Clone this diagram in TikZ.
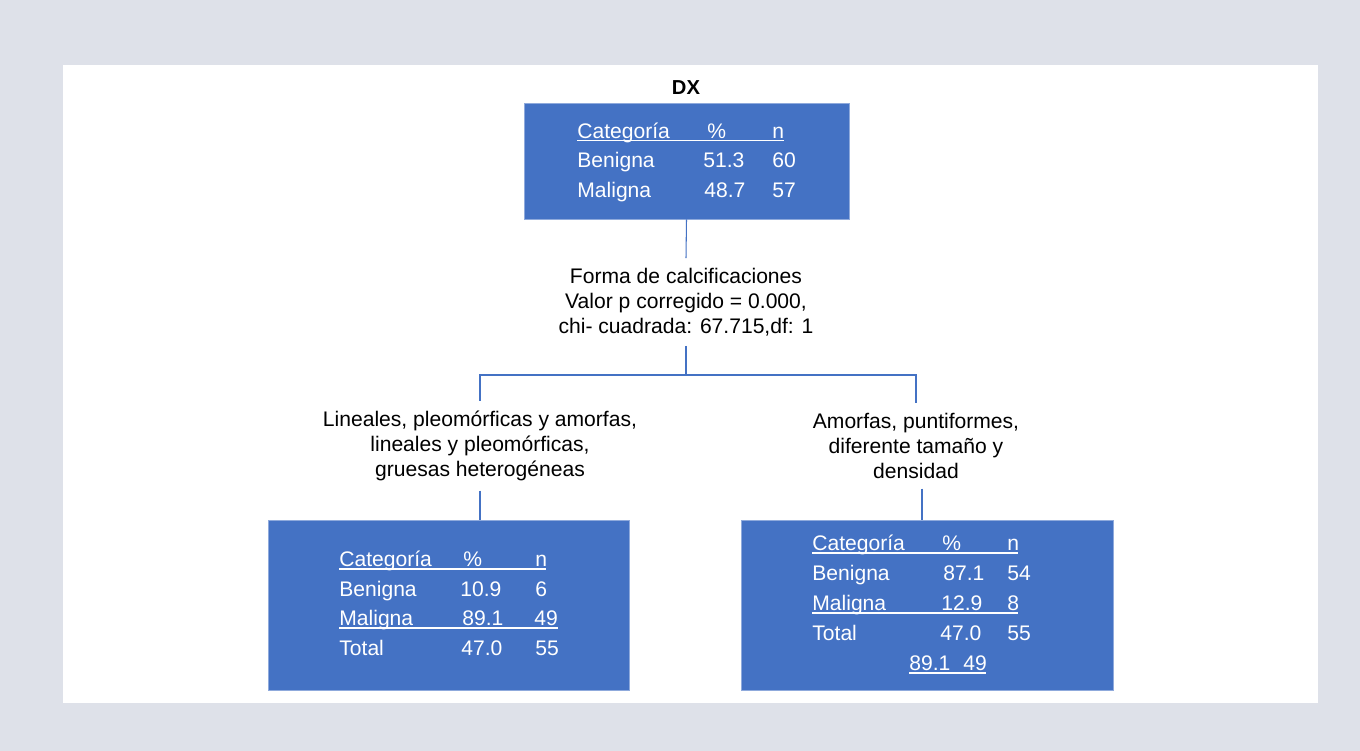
\documentclass[tikz,border=0pt]{standalone}
\usepackage{fontspec}
\setmainfont{Liberation Sans}
\usetikzlibrary{positioning, calc}
\definecolor{dxblue}{RGB}{68, 114, 196}
\definecolor{pagegray}{RGB}{222, 225, 233}
\tikzset{
    datbox/.style={rectangle, fill=dxblue, draw=dxblue!60!white, line width=0.5pt},
    link/.style={draw, dxblue, line width=0.6pt},
    cell/.style={anchor=base west, inner sep=0pt, text=white, font=\fontsize{12}{14}\selectfont},
    uline/.style={white, line width=0.6pt},
    splittext/.style={align=center, inner sep=5.4pt, font=\fontsize{12}{14.2}\selectfont}
}

\begin{document}
\begin{tikzpicture}[x=0.02cm, y=-0.02cm]
    % --- PAGE ---
    \useasboundingbox (0,0) rectangle (1360,751);
    \fill[pagegray] (0,0) rectangle (1360,751);
    \fill[white] (63,65) rectangle (1318,703);

    % --- ROOT NODE: DX ---
    \node[font=\bfseries\fontsize{11.5}{14}\selectfont] (title) at (686,88) {DX};
    \node[datbox, minimum width=6.5cm, minimum height=2.32cm] (dx) at (686.5,161) {};
    \foreach \n/\x/\y/\t in {tcat/577/138/Categoría, tpct/707/138/\%, tn/772/138/n,
        tben/577/167.5/Benigna, tbenp/703/167.5/51.3, tbenn/772/167.5/60,
        tmal/577/197.5/Maligna, tmalp/704/197.5/48.7, tmaln/772/197.5/57}
        \node[cell] (\n) at (\x,\y) {\t};
    \draw[uline] (577,140.5) -- (784,140.5);

    % --- SPLIT ---
    \node[splittext] (split) at (686,302) {Forma de calcificaciones\\Valor p corregido = 0.000,\\chi- cuadrada: 67.715,df: 1};
    \coordinate (fork) at (686,375);

    \node[splittext] (leftlab) at (480,446) {Lineales, pleomórficas y amorfas,\\lineales y pleomórficas,\\gruesas heterogéneas};
    \node[splittext] (rightlab) at (916,446) {Amorfas, puntiformes,\\diferente tamaño y\\densidad};

    % --- LEFT LEAF ---
    \node[datbox, minimum width=7.22cm, minimum height=3.4cm] (leftbox) at (448.5,605) {};
    \foreach \n/\x/\y/\t in {lcat/339/566/Categoría, lpct/463/566/\%, ln/535/566/n,
        lben/339/596/Benigna, lbenp/460/596/10.9, lbenn/535/596/6,
        lmal/339/625.5/Maligna, lmalp/462/625.5/89.1, lmaln/534/625.5/49,
        ltot/339/655.5/Total, ltotp/461/655.5/47.0, ltotn/535/655.5/55}
        \node[cell] (\n) at (\x,\y) {\t};
    \draw[uline] (339,569) -- (546,569);
    \draw[uline] (339,628) -- (558,628);

    % --- RIGHT LEAF ---
    \node[datbox, minimum width=7.44cm, minimum height=3.4cm] (rightbox) at (927,605) {};
    \foreach \n/\x/\y/\t in {rcat/812/550.5/Categoría, rpct/942/550.5/\%, rn/1007/550.5/n,
        rben/812/580.5/Benigna, rbenp/943/580.5/87.1, rbenn/1007/580.5/54,
        rmal/812/610.5/Maligna, rmalp/941/610.5/12.9, rmaln/1007/610.5/8,
        rtot/812/640.5/Total, rtotp/940/640.5/47.0, rtotn/1007/640.5/55,
        rextp/909/670.5/89.1, rextn/963/670.5/49}
        \node[cell] (\n) at (\x,\y) {\t};
    \draw[uline] (812,553) -- (1018,553);
    \draw[uline] (812,613) -- (1018,613);
    \draw[uline] (909,673) -- (986,673);

    % --- CONNECTORS ---
    \draw[link] (dx.south) -- (split.north);
    \draw[link] (split.south) -- (fork) -| (leftlab.north);
    \draw[link] (fork) -| (rightlab.north);
    \draw[link] (leftlab.south) -- (leftlab.south |- leftbox.north);
    \draw[link] ([xshift=0.12cm]rightlab.south) -- ([xshift=0.12cm]rightlab.south |- rightbox.north);
\end{tikzpicture}
\end{document}
